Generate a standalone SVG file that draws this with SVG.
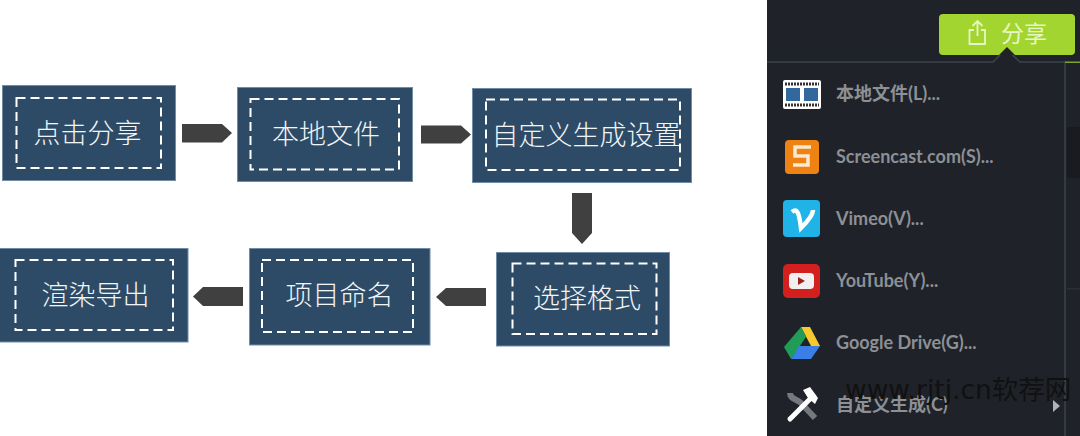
<svg xmlns="http://www.w3.org/2000/svg" width="1080" height="436" viewBox="0 0 1080 436">
<style>
text{font-family:"Noto Sans CJK SC","Noto Sans",sans-serif}
.box{fill:#2d4b66;stroke:#6f8ea6;stroke-width:1}
.dash{fill:none;stroke:#fff;stroke-width:2;stroke-dasharray:9 5}
.lbl{fill:#f2f5f7;font-size:27px;text-anchor:middle;font-weight:300}
.arr{fill:#404040}
.menu{fill:#8d9095;font-size:18px;font-family:"Lato","Noto Sans CJK SC",sans-serif;font-weight:700}
</style>
<rect width="1080" height="436" fill="#fff"/>
<g id="connectors">
<polygon class="arr" points="182,124 222,124 232,133 222,142.500 182,142.500"/>
<polygon class="arr" points="421,125.500 461,125.500 471,134.500 461,143.500 421,143.500"/>
<polygon class="arr" points="572,193 592,193 592,233 582,244 572,233"/>
<polygon class="arr" points="486,288 446,288 436,297 446,306 486,306"/>
<polygon class="arr" points="243,287 203,287 193,296.500 203,306 243,306"/>
</g>
<g id="n1"><rect class="box" x="2.500" y="85.500" width="173" height="95"/><rect class="dash" x="16.500" y="98" width="144.500" height="70"/><text class="lbl" x="87.500" y="143">点击分享</text></g>
<g id="n2"><rect class="box" x="237.500" y="87.500" width="175" height="94"/><rect class="dash" x="250.500" y="99" width="148.500" height="70.500"/><text class="lbl" x="326" y="144">本地文件</text></g>
<g id="n3"><rect class="box" x="472.500" y="88.500" width="219" height="94"/><rect class="dash" x="486" y="99.500" width="194" height="70.500"/><text class="lbl" x="586" y="145">自定义生成设置</text></g>
<g id="n4"><rect class="box" x="496.500" y="252.500" width="173" height="93.500"/><rect class="dash" x="512.500" y="263.500" width="144" height="70.500"/><text class="lbl" x="587" y="308">选择格式</text></g>
<g id="n5"><rect class="box" x="249.500" y="248.500" width="180.500" height="96.500"/><rect class="dash" x="262" y="260" width="151" height="72"/><text class="lbl" x="339.500" y="305">项目命名</text></g>
<g id="n6"><rect class="box" x="-1" y="248.500" width="189" height="93.500"/><rect class="dash" x="15.500" y="260" width="157.500" height="70"/><text class="lbl" x="95.500" y="305">渲染导出</text></g>
<g id="panel">
<rect x="767" y="0" width="313" height="436" fill="#1f2229"/>
<rect x="1067" y="127" width="13" height="51" fill="#191b20"/>
<rect x="1067" y="288" width="13" height="1.500" fill="#2c2f35"/>
<path d="M767 62H993L1006 49L1020 62H1065V436" fill="none" stroke="#3d4349" stroke-width="1.500"/>
<rect x="1065" y="61.500" width="15" height="1.500" fill="#7da32b"/>
<rect x="939" y="14" width="136" height="41" rx="4" fill="#a2d52f"/>
<polygon points="999,55 1007,47 1015,55" fill="#1f2229"/>
<path d="M974 30H969.500V44H985V30H981M977.500 36V21.500M972.500 26L977.500 21L982.500 26" fill="none" stroke="#e8f5c4" stroke-width="1.800"/>
<text x="1001" y="42" font-size="23" fill="#e8f5c4">分享</text>
<rect x="783" y="80" width="38" height="29" rx="2" fill="#fff"/>
<path d="M785 84H819M785 105H819" stroke="#333" stroke-width="3" stroke-dasharray="2 1" fill="none"/>
<rect x="786" y="88" width="14" height="13" fill="#33689d"/>
<rect x="804" y="88" width="14" height="13" fill="#33689d"/>
<rect x="785" y="140" width="34" height="34" rx="4" fill="#ee8313"/>
<path d="M811 147H795V156H808V165H793" fill="none" stroke="#fde9d0" stroke-width="3.500"/>
<rect x="783" y="200" width="37" height="37" rx="4" fill="#1fb3e8"/>
<path d="M792 212C797 208 799 212 801 228C807 222 813 214 813 210" fill="none" stroke="#fff" stroke-width="4.500"/>
<rect x="783" y="264" width="37" height="34" rx="5" fill="#d3201f"/>
<rect x="789" y="273" width="25" height="16" rx="4" fill="#f0f0f0"/>
<polygon points="798,277 805,281 798,285" fill="#a02020"/>
<polygon points="801,327 810,327 820,346 811,346" fill="#f8c92c"/>
<polygon points="801,327 784,347 791,359 806,337" fill="#1f9d57"/>
<polygon points="791,359 811,359 820,346 799,346" fill="#3a7fe8"/>
<path d="M790 393C790 399 797 399 801 403L815 418" fill="none" stroke="#75787d" stroke-width="6"/>
<path d="M813 396L790 419" fill="none" stroke="#fff" stroke-width="5" stroke-linecap="round"/>
<path d="M803 390L810 387L818 398L815 404L808 398Z" fill="#fff"/>
<text class="menu" x="836" y="100">本地文件(L)...</text>
<text class="menu" x="836" y="163">Screencast.com(S)...</text>
<text class="menu" x="836" y="225">Vimeo(V)...</text>
<text class="menu" x="836" y="287">YouTube(Y)...</text>
<text class="menu" x="836" y="349">Google Drive(G)...</text>
<text class="menu" x="836" y="411">自定义生成(C)</text>
<polygon points="1053,400 1060,406 1053,412" fill="#b0b2b5"/>
</g>
<text id="watermark" x="845" y="399" font-size="26.500" fill="#111" style="font-family:'DejaVu Sans','Noto Sans CJK SC',sans-serif">www.rjtj.cn软荐网</text>
</svg>
